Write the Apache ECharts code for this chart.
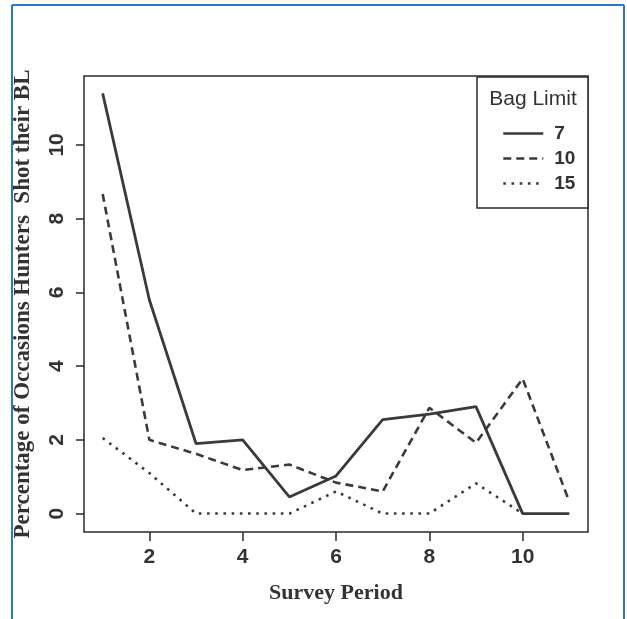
<!DOCTYPE html>
<html>
<head>
<meta charset="utf-8">
<script src="https://cdn.jsdelivr.net/npm/echarts@6/dist/echarts.min.js"></script>
<style>
  html, body { margin: 0; padding: 0; background: #fff; }
  #chart { width: 627px; height: 619px; }
</style>
</head>
<body>
<div id="chart"></div>
<script>
  // survey periods 1..11
  var periods = [1, 2, 3, 4, 5, 6, 7, 8, 9, 10, 11];
  // percentage of occasions hunters shot their bag limit
  var bag7 = [11.4, 5.8, 1.9, 2.0, 0.45, 1.02, 2.55, 2.7, 2.9, 0, 0];
  var bag10 = [8.67, 2.0, 1.62, 1.18, 1.33, 0.84, 0.6, 2.87, 1.92, 3.66, 0.32];
  var bag15 = [2.05, 1.1, 0, 0, 0, 0.6, 0, 0, 0.82, 0];
  var xTicks = [2, 4, 6, 8, 10];
  var yTicks = [0, 2, 4, 6, 8, 10];

  function pairs(vals) {
    return vals.map(function (v, i) { return [periods[i], v]; });
  }

  var ink = '#333';
  var lineInk = '#3a3a3a';
  var blue = '#2b78c6';

  var chart = echarts.init(document.getElementById('chart'), null, { renderer: 'canvas' });

  var option = {
    animation: false,
    backgroundColor: '#fff',
    grid: {
      left: 84, top: 76, right: 39, bottom: 87,
      show: true, borderColor: '#2a2a2a', borderWidth: 1.5, backgroundColor: 'transparent'
    },
    xAxis: {
      type: 'value', min: 0.6, max: 11.4,
      name: 'Survey Period', nameLocation: 'middle', nameGap: 50,
      nameTextStyle: { fontFamily: 'Liberation Serif', fontWeight: 'bold', fontSize: 22, color: ink },
      axisLine: { show: false, onZero: false },
      splitLine: { show: false },
      axisTick: { show: true, length: 9, customValues: xTicks, lineStyle: { color: '#2a2a2a', width: 1.5 } },
      axisLabel: {
        customValues: xTicks, margin: 15,
        fontFamily: 'Liberation Sans', fontWeight: 'bold', fontSize: 21, color: ink
      }
    },
    yAxis: {
      type: 'value', min: -0.5, max: 11.87,
      name: 'Percentage of Occasions Hunters  Shot their BL', nameLocation: 'middle', nameGap: 49,
      nameTextStyle: { fontFamily: 'Liberation Serif', fontWeight: 'bold', fontSize: 23, color: ink },
      axisLine: { show: false, onZero: false },
      splitLine: { show: false },
      axisTick: { show: true, length: 8, customValues: yTicks, lineStyle: { color: '#2a2a2a', width: 1.5 } },
      axisLabel: {
        customValues: yTicks, rotate: 90, margin: 16,
        fontFamily: 'Liberation Sans', fontWeight: 'bold', fontSize: 21, color: ink
      }
    },
    legend: {
      orient: 'vertical', left: 497, top: 119,
      itemWidth: 40, itemHeight: 14, itemGap: 6,
      data: ['7', '10', '15'],
      itemStyle: { opacity: 0, borderWidth: 0 },
      lineStyle: { width: 2.6 },
      textStyle: {
        fontFamily: 'Liberation Sans', fontWeight: 'bold', fontSize: 19, color: ink,
        padding: [0, 0, 0, 6]
      }
    },
    graphic: [
      { type: 'rect', shape: { x: 477, y: 77, width: 111, height: 131 },
        style: { fill: '#fff', stroke: '#2a2a2a', lineWidth: 1.5 }, z: 0 },
      { type: 'text', x: 533, y: 99, z: 1,
        style: { text: 'Bag Limit', fill: ink, font: '21px "Liberation Sans"', align: 'center', verticalAlign: 'middle' } },
      { type: 'line', shape: { x1: 12, y1: 5, x2: 12, y2: 619 }, style: { stroke: blue, lineWidth: 2 } },
      { type: 'line', shape: { x1: 12, y1: 5, x2: 624, y2: 5 }, style: { stroke: blue, lineWidth: 2 } },
      { type: 'line', shape: { x1: 624, y1: 5, x2: 624, y2: 619 }, style: { stroke: blue, lineWidth: 2 } }
    ],
    series: [
      {
        name: '7', type: 'line', data: pairs(bag7), symbol: 'none', z: 3,
        lineStyle: { color: lineInk, width: 2.8, type: 'solid' },
        itemStyle: { color: lineInk }
      },
      {
        name: '10', type: 'line', data: pairs(bag10), symbol: 'none', z: 3,
        lineStyle: { color: lineInk, width: 2.6, type: [8, 5] },
        itemStyle: { color: lineInk }
      },
      {
        name: '15', type: 'line', data: pairs(bag15), symbol: 'none', z: 3,
        lineStyle: { color: lineInk, width: 2.6, type: [2.6, 5.6] },
        itemStyle: { color: lineInk }
      }
    ]
  };

  chart.setOption(option);
</script>
</body>
</html>
